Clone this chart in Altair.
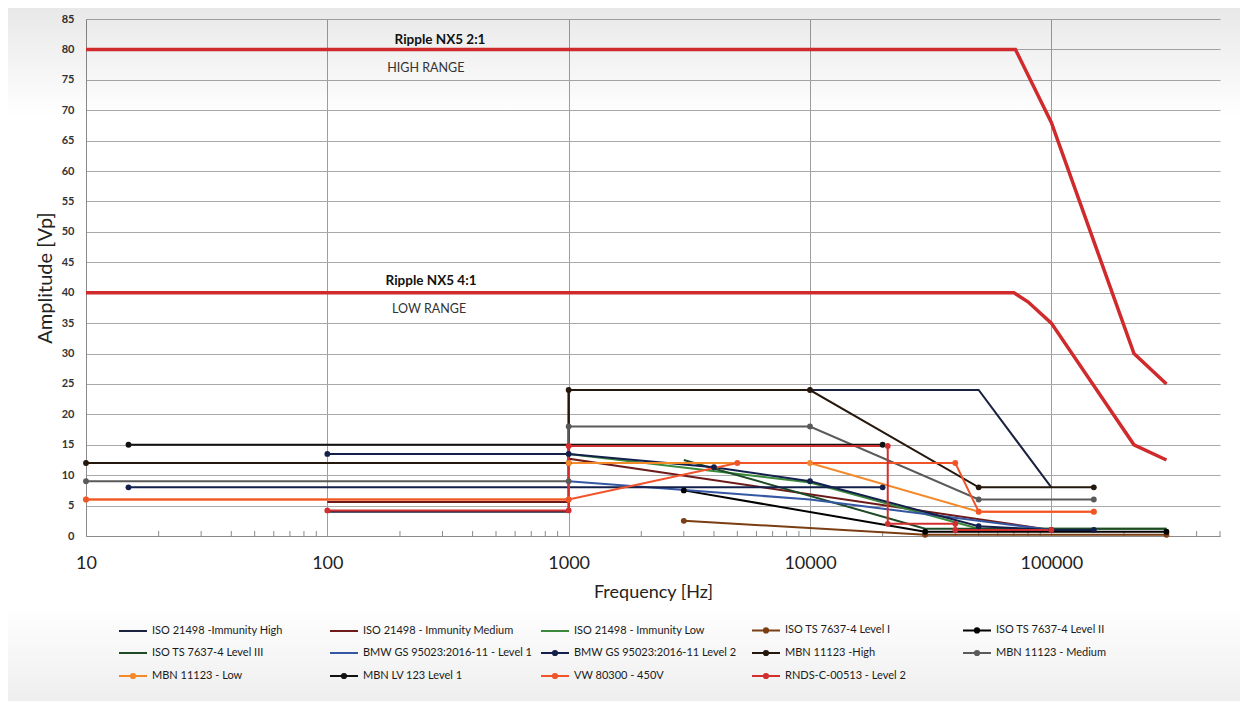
import altair as alt
import pandas as pd

# ---------------- data ----------------
ripple_21_f = [10, 71000, 100000, 220000, 300000]
ripple_21_v = [80, 80, 68, 30, 25]
ripple_41_f = [10, 70000, 80000, 100000, 220000, 300000]
ripple_41_v = [40, 40, 38.5, 35, 15, 12.5]

imm_high_f = [100, 1000, 1000, 50000, 100000]
imm_high_v = [4, 4, 24, 24, 8]
imm_med_f = [100, 1000, 1000, 100000]
imm_med_v = [5.6, 5.6, 12.7, 1.0]
imm_low_f = [100, 1000, 10000, 50000, 300000]
imm_low_v = [13.5, 13.5, 8.8, 1.2, 1.2]
iso_l1_f = [3000, 30000, 300000]
iso_l1_v = [2.5, 0.2, 0.2]
iso_l2_f = [3000, 30000, 300000]
iso_l2_v = [7.5, 0.7, 0.7]
iso_l3_f = [3000, 30000, 300000]
iso_l3_v = [12.5, 1.2, 1.2]
bmw1_f = [1000, 10000, 100000]
bmw1_v = [9, 6, 1]
bmw2a_f = [15, 20000]
bmw2a_v = [8, 8]
bmw2b_f = [100, 1000, 4000, 10000, 50000, 100000, 150000]
bmw2b_v = [13.5, 13.5, 11.3, 9, 1.6, 1.0, 1.0]
mbn_high_f = [10, 1000, 1000, 10000, 50000, 150000]
mbn_high_v = [12, 12, 24, 24, 8, 8]
mbn_med_f = [10, 1000, 1000, 10000, 50000, 150000]
mbn_med_v = [9, 9, 18, 18, 6, 6]
mbn_low_f = [10, 1000, 1000, 10000, 50000, 150000]
mbn_low_v = [6, 6, 12, 12, 4, 4]
lv123_f = [15, 20000]
lv123_v = [15, 15]
vw_f = [10, 1000, 5000, 40000, 50000, 150000]
vw_v = [6, 6, 12, 12, 4, 4]
rnds_f = [100, 1000, 1000, 21000, 21000, 40000, 40000, 100000]
rnds_v = [4.2, 4.2, 14.8, 14.8, 2, 2, 1, 1]

series_names = [
    "ISO 21498 -Immunity High", "ISO 21498 - Immunity Medium", "ISO 21498 - Immunity Low",
    "ISO TS 7637-4 Level I", "ISO TS 7637-4 Level II",
    "ISO TS 7637-4 Level III", "BMW GS 95023:2016-11 - Level 1", "BMW GS 95023:2016-11 Level 2",
    "MBN 11123 -High", "MBN 11123 - Medium",
    "MBN 11123 - Low", "MBN LV 123 Level 1", "VW 80300 - 450V",
    "RNDS-C-00513 - Level 2",
]
series_colors = [
    "#1b2140", "#6e1a1a", "#3b8a3b",
    "#7a3e12", "#000000",
    "#1e4a26", "#3557a3", "#14204c",
    "#24170c", "#5a5a5a",
    "#f4892a", "#111111", "#f2542a",
    "#d32f2f",
]
series_marker = [False, False, False, True, True, False, False, True,
                 True, True, True, True, True, True]
series_paths = [
    [(imm_high_f, imm_high_v)], [(imm_med_f, imm_med_v)], [(imm_low_f, imm_low_v)],
    [(iso_l1_f, iso_l1_v)], [(iso_l2_f, iso_l2_v)], [(iso_l3_f, iso_l3_v)],
    [(bmw1_f, bmw1_v)], [(bmw2a_f, bmw2a_v), (bmw2b_f, bmw2b_v)],
    [(mbn_high_f, mbn_high_v)], [(mbn_med_f, mbn_med_v)], [(mbn_low_f, mbn_low_v)],
    [(lv123_f, lv123_v)], [(vw_f, vw_v)], [(rnds_f, rnds_v)],
]

note_text = ["Ripple NX5 2:1", "HIGH RANGE", "Ripple NX5 4:1", "LOW RANGE"]
note_f = [293, 256, 269, 264]
note_v = [81.5, 76.9, 41.9, 37.3]
note_bold = [True, False, True, False]

x_ticks = [10, 100, 1000, 10000, 100000]
y_ticks = list(range(0, 90, 5))

# ---------------- tables ----------------
keys = [f"{i:02d}" for i in range(len(series_names))]
rows, mrows = [], []
for i, paths in enumerate(series_paths):
    for j, (fs, vs) in enumerate(paths):
        for k, (f, v) in enumerate(zip(fs, vs)):
            rows.append({"key": keys[i], "path": f"{keys[i]}-{j}", "order": k, "f": f, "v": v})
            if series_marker[i]:
                mrows.append({"key": keys[i], "f": f, "v": v})
df_lines = pd.DataFrame(rows)
df_marks = pd.DataFrame(mrows)

rrows = []
for name, fs, vs in [("2:1", ripple_21_f, ripple_21_v), ("4:1", ripple_41_f, ripple_41_v)]:
    for k, (f, v) in enumerate(zip(fs, vs)):
        rrows.append({"name": name, "order": k, "f": f, "v": v})
df_ripple = pd.DataFrame(rrows)

df_notes = pd.DataFrame({"t": note_text, "f": note_f, "v": note_v, "b": note_bold})

minor = [m * 10 ** e for e in range(1, 6) for m in range(2, 10) if m * 10 ** e <= 500000]
df_minor = pd.DataFrame({"f": minor})

FONT = "Lato"
X_ENC = alt.X("f:Q", title="Frequency [Hz]",
              scale=alt.Scale(type="log", domain=[10, 500000], nice=False),
              axis=alt.Axis(values=x_ticks, format="d", grid=True, gridColor="#9e9e9e",
                            ticks=False, domainColor="#8a8a8a", labelFont=FONT,
                            labelFontSize=18, labelColor="#222222", labelPadding=18,
                            labelFlush=False, titleFont=FONT, titleFontSize=18,
                            titleFontWeight="normal", titleColor="#222222", titlePadding=11))
Y_ENC = alt.Y("v:Q", title="Amplitude [Vp]",
              scale=alt.Scale(domain=[0, 85], nice=False),
              axis=alt.Axis(values=y_ticks, grid=True, gridColor="#a9a9a9", ticks=False,
                            domainColor="#8a8a8a", labelFont=FONT, labelFontSize=11,
                            labelFontWeight="bold", labelColor="#333333", labelPadding=12,
                            titleFont=FONT, titleFontSize=20, titleFontWeight="normal",
                            titleColor="#222222", titlePadding=6))

one = pd.DataFrame({"a": [0]})
bg_top = alt.Chart(one).mark_rect(
    fill=alt.Gradient(gradient="linear", x1=0, x2=0, y1=0, y2=1,
                      stops=[alt.GradientStop(color="rgba(0,0,0,0.09)", offset=0),
                             alt.GradientStop(color="rgba(0,0,0,0)", offset=1)])
).encode(x=alt.value(-78), x2=alt.value(1160), y=alt.value(-11), y2=alt.value(99))
bg_bot = alt.Chart(one).mark_rect(
    fill=alt.Gradient(gradient="linear", x1=0, x2=0, y1=0, y2=1,
                      stops=[alt.GradientStop(color="rgba(0,0,0,0)", offset=0),
                             alt.GradientStop(color="rgba(0,0,0,0.08)", offset=1)])
).encode(x=alt.value(-78), x2=alt.value(1160), y=alt.value(586), y2=alt.value(700))

ticks = alt.Chart(df_minor).mark_rule(color="#8a8a8a", strokeWidth=1).encode(
    x=X_ENC, y=alt.value(512), y2=alt.value(517))

ripple = alt.Chart(df_ripple).mark_line(color="#cf2a2c", strokeWidth=3.5).encode(
    x=X_ENC, y=Y_ENC, detail="name:N", order="order:Q")

lines = alt.Chart(df_lines).mark_line(strokeWidth=2).encode(
    x=X_ENC, y=Y_ENC,
    stroke=alt.Stroke("key:N", scale=alt.Scale(domain=keys, range=series_colors), legend=None),
    detail="path:N", order="order:Q")

marks = alt.Chart(df_marks).mark_circle(size=34, opacity=1).encode(
    x=X_ENC, y=Y_ENC,
    fill=alt.Fill("key:N", scale=alt.Scale(domain=keys, range=series_colors), legend=None))

notes_b = alt.Chart(df_notes).transform_filter("datum.b").mark_text(
    font=FONT, fontSize=13.5, fontWeight="bold", color="#111111", baseline="middle"
).encode(x=X_ENC, y=Y_ENC, text="t:N")
notes_r = alt.Chart(df_notes).transform_filter("!datum.b").mark_text(
    font=FONT, fontSize=12.5, color="#333333", baseline="middle"
).encode(x=X_ENC, y=Y_ENC, text="t:N")

line_sym = "M-1,0L1,0"
dot_sym = ("M-1,0L1,0M-0.15,0A0.15,0.15,0,1,0,0.15,0A0.15,0.15,0,1,0,-0.15,0Z"
           "M-0.07,0A0.07,0.07,0,1,0,0.07,0A0.07,0.07,0,1,0,-0.07,0Z")
shapes = [dot_sym if m else line_sym for m in series_marker]
leg = alt.Legend(title=None, orient="none", legendX=32, legendY=596, columns=5,
                 direction="horizontal", gridAlign="all", columnPadding=4, rowPadding=1,
                 symbolSize=784, symbolStrokeWidth=2, labelFont=FONT, labelFontSize=11,
                 labelColor="#1a1a1a", labelLimit=400, labelOffset=4, symbolLimit=0)
legend_layer = alt.Chart(pd.DataFrame({"name": series_names})).transform_filter("false").mark_point(
    filled=False, opacity=1, size=784, strokeWidth=2
).encode(
    color=alt.Color("name:N", scale=alt.Scale(domain=series_names, range=series_colors), legend=leg),
    shape=alt.Shape("name:N", scale=alt.Scale(domain=series_names, range=shapes), legend=leg),
)

chart = alt.layer(bg_top, bg_bot, ticks, ripple, lines, marks, notes_b, notes_r, legend_layer).properties(
    width=1134, height=517,
    autosize=alt.AutoSizeParams(type="none"),
    padding={"left": 78, "top": 11, "right": 20, "bottom": 165},
    background="white",
).configure_view(stroke=None)

chart.save("out.html", embed_options={"renderer": "svg", "actions": False})
